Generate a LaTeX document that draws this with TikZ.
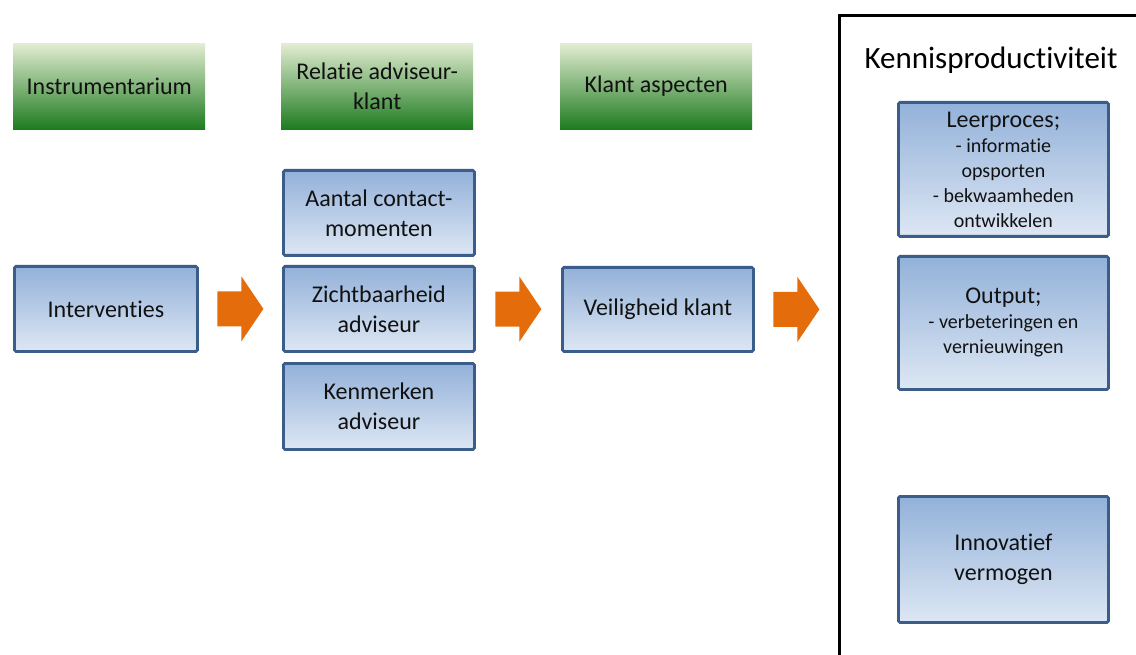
\documentclass[tikz,border=0pt]{standalone}
\usepackage{fontspec}
\setmainfont{Carlito}[Ligatures=NoCommon]
\usetikzlibrary{calc}
\definecolor{bluetop}{HTML}{93B1D9}
\definecolor{bluebot}{HTML}{DDE7F4}
\definecolor{blueline}{HTML}{3A5D8A}
\definecolor{greentop}{HTML}{E3EDD2}
\definecolor{greenbot}{HTML}{1E7B20}
\definecolor{arroworange}{HTML}{E46C0A}
\definecolor{boxtext}{HTML}{111111}
\tikzset{
  bluebox/.style={draw=blueline, line width=2.8pt, rounded corners=1.5pt,
    top color=bluetop, bottom color=bluebot, align=center, anchor=north west,
    inner sep=2pt, text=boxtext, font=\fontsize{24}{30}\selectfont},
  greenbox/.style={top color=greentop, bottom color=greenbot, align=center,
    anchor=north west, inner sep=2pt, text=boxtext, font=\fontsize{24}{30}\selectfont},
  flowarrow/.style={fill=arroworange, draw=none},
  small/.style={font=\fontsize{20}{25}\selectfont}
}
% block arrow between two nodes: shaft then triangular head
\newcommand{\blockarrow}[2]{%
  \path let \p1=(#1.east), \p2=(#2.west) in
    coordinate (s) at ($(\p1)!0.5!(\p2)$);
  \fill[flowarrow] ($(s)+(-23,-17.5)$) -- ($(s)+(1,-17.5)$) -- ($(s)+(1,-32.5)$)
    -- ($(s)+(23,0)$) -- ($(s)+(1,32.5)$) -- ($(s)+(1,17.5)$)
    -- ($(s)+(-23,17.5)$) -- cycle;}
\begin{document}
\begin{tikzpicture}[x=1pt,y=-1pt]
\useasboundingbox (0,0) rectangle (1136,655);
\fill[white] (0,0) rectangle (1136,655);

% column headers
\node[greenbox, minimum width=192pt, minimum height=86pt] (h1) at (13,43) {Instrumentarium};
\node[greenbox, minimum width=192pt, minimum height=86pt] (h2) at (281,43) {Relatie adviseur-\\klant};
\node[greenbox, minimum width=192pt, minimum height=86pt] (h3) at (560,43) {Klant aspecten};

% flow boxes
\node[bluebox, minimum width=183pt, minimum height=85pt] (interv) at (13,265) {Interventies};
\node[bluebox, minimum width=191pt, minimum height=85pt] (aantal) at (282,169) {Aantal contact-\\momenten};
\node[bluebox, minimum width=191pt, minimum height=85pt] (zicht) at (282,265) {Zichtbaarheid\\adviseur};
\node[bluebox, minimum width=191pt, minimum height=86pt] (kenm) at (282,362) {Kenmerken\\adviseur};
\node[bluebox, minimum width=191pt, minimum height=84pt] (veil) at (561,266) {Veiligheid klant};

% knowledge productivity frame
\draw[line width=3pt] (839.5,655) -- (839.5,15.5) -- (1136,15.5);
\node[font=\fontsize{31}{36}\selectfont, anchor=center] (kp) at (991,60) {Kennisproductiviteit};

\node[bluebox, small, minimum width=210pt, minimum height=134pt] (leer) at (897,101)
  {{\fontsize{24}{25}\selectfont Leerproces;}\\- informatie\\opsporten\\- bekwaamheden\\ontwikkelen};
\node[bluebox, small, minimum width=210pt, minimum height=133pt] (outp) at (897,255)
  {{\fontsize{24}{26}\selectfont Output;}\\- verbeteringen en\\vernieuwingen};
\node[bluebox, minimum width=210pt, minimum height=126pt] (innov) at (897,495)
  {Innovatief\\vermogen};

% arrows
\blockarrow{interv}{zicht}
\blockarrow{zicht}{veil}
\path let \p1=(veil.east) in coordinate (kpin) at (838,\y1);
\blockarrow{veil}{kpin}
\end{tikzpicture}
\end{document}
